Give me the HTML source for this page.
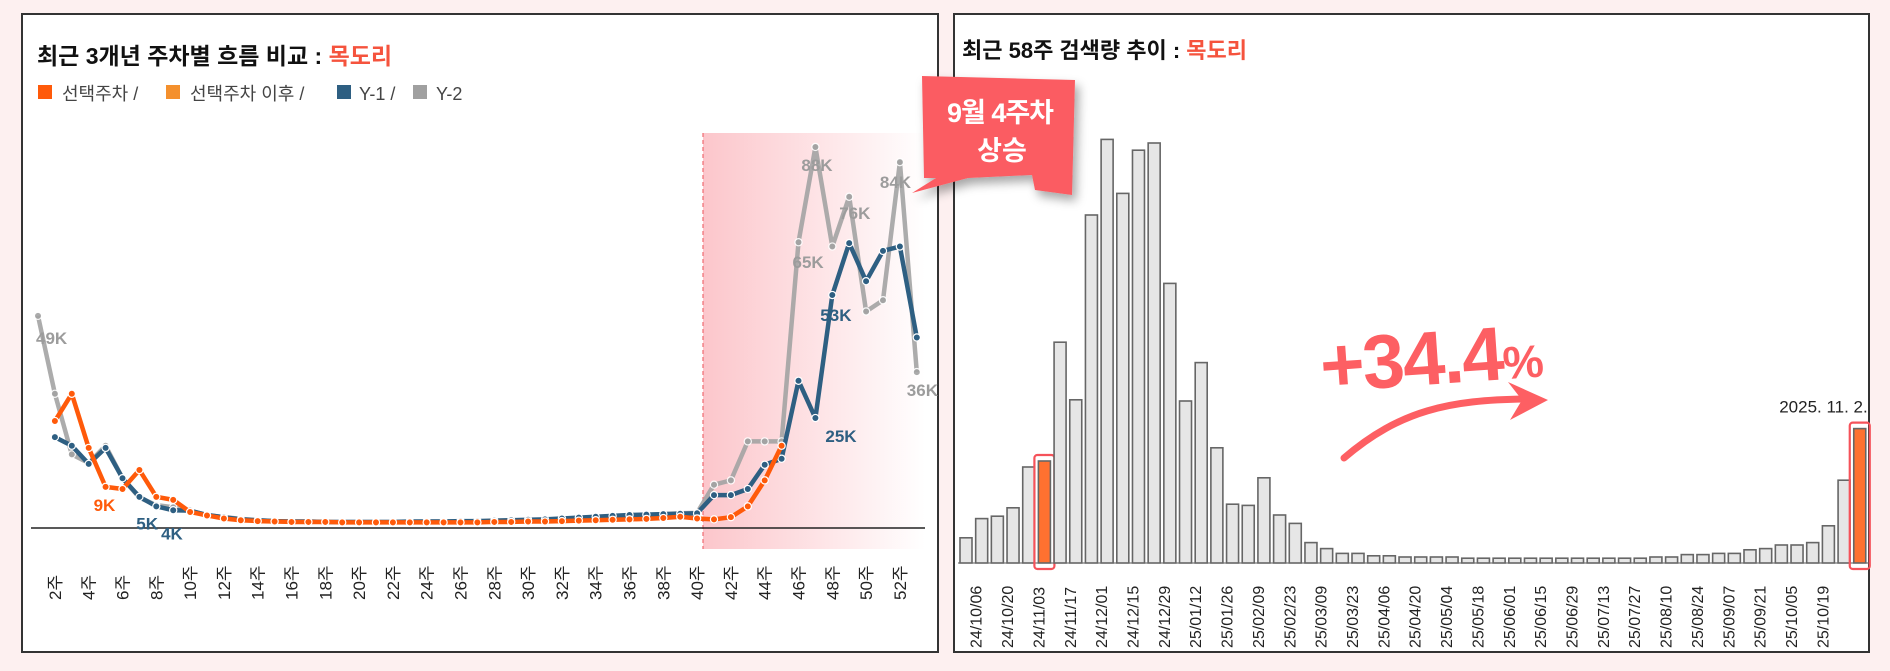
<!DOCTYPE html>
<html><head><meta charset="utf-8">
<style>
html,body{margin:0;padding:0;background:#fdf0f0;}
svg{display:block;font-family:"Liberation Sans","Noto Sans CJK KR",sans-serif;}
</style></head>
<body>
<svg id="s" width="1890" height="671" viewBox="0 0 1890 671">
<defs>
<linearGradient id="shade" x1="0" x2="1" y1="0" y2="0">
<stop offset="0" stop-color="#fcc6cb"/><stop offset="1" stop-color="#ffffff"/>
</linearGradient>
<filter id="sh" x="-30%" y="-30%" width="160%" height="160%"><feDropShadow dx="4" dy="6" stdDeviation="5" flood-color="#000" flood-opacity="0.35"/></filter>
</defs>
<rect x="22" y="14" width="916" height="638" fill="#fff" stroke="#333" stroke-width="2"/>
<rect x="954" y="14" width="915" height="638" fill="#fff" stroke="#333" stroke-width="2"/>
<g>
<text x="37" y="64" font-size="23" font-weight="bold" fill="#111">최근 3개년 주차별 흐름 비교 : <tspan fill="#f5533d">목도리</tspan></text>
</g>
<g font-size="18" fill="#444">
<rect x="38" y="85" width="14" height="14" fill="#ff5a0a"/>
<text x="62" y="100">선택주차 /</text>
<rect x="166" y="85" width="14" height="14" fill="#f4902d"/>
<text x="190" y="100">선택주차 이후 /</text>
<rect x="337" y="85" width="14" height="14" fill="#2e5f82"/>
<text x="359" y="100">Y-1 /</text>
<rect x="413" y="85" width="14" height="14" fill="#a0a0a0"/>
<text x="436" y="100">Y-2</text>
</g>
<rect x="703" y="133" width="222" height="416" fill="url(#shade)"/>
<line x1="703" y1="133" x2="703" y2="549" stroke="#f06a70" stroke-width="1.2" stroke-dasharray="4,3"/>
<g id="left"></g>
<g>
<text x="962" y="58" font-size="22" font-weight="bold" fill="#111">최근 58주 검색량 추이 :  <tspan fill="#f5533d">목도리</tspan></text>
</g>
<g id="right"></g>
<g>
<text x="1322" y="392" font-size="76" font-weight="bold" fill="#fd5f63" transform="rotate(-4 1322 392)" letter-spacing="-2">+34.4<tspan font-size="46">%</tspan></text>
<path d="M1344,458 C1400,410 1450,400 1525,399" fill="none" stroke="#fd5f63" stroke-width="7" stroke-linecap="round"/>
<polygon points="1508,382 1548,400 1510,420 1522,400" fill="#fd5f63"/>
</g>
<g filter="url(#sh)">
<polygon points="922,76 1075,80 1072,195 1035,190 1032,175 968,178 912,193 936,178 924,178" fill="#fb5c62"/>
</g>
<g font-weight="bold" fill="#fff" font-size="27" text-anchor="middle">
<text x="1000" y="122" letter-spacing="-1">9월 4주차</text>
<text x="1002" y="160">상승</text>
</g>
</svg>
<script>
// ---------- left chart data (K) ----------
const weeks = Array.from({length:53},(_,i)=>i+1);
const weekTicks = [2,4,6,8,10,12,14,16,18,20,22,24,26,28,30,32,34,36,38,40,42,44,46,48,50,52];
const selected = [null,24.7,31,18.5,9.5,9,13.4,7.2,6.5,3.7,2.9,2.2,1.8,1.6,1.5,1.4,1.4,1.4,1.3,1.3,1.3,1.3,1.3,1.3,1.3,1.3,1.3,1.4,1.4,1.5,1.5,1.6,1.7,1.8,1.9,2,2.1,2.3,2.6,2.2,2,2.5,5,11,19];
const y1 = [null,21,19,14.8,18.5,11.5,7.2,5,4.1,4,3,2.5,2,1.8,1.6,1.5,1.5,1.4,1.4,1.4,1.4,1.4,1.5,1.5,1.5,1.6,1.6,1.7,1.8,1.9,2,2.2,2.4,2.6,2.8,3,3.1,3.2,3.3,3.4,7.6,7.6,9,14.6,16,34,25.4,53.8,65.8,57,64,65,44];
const y2 = [49,31,17,15,19,11.5,7,5.3,4.8,4,3,2.5,2.1,1.8,1.6,1.5,1.5,1.4,1.4,1.4,1.4,1.4,1.4,1.5,1.5,1.5,1.6,1.6,1.7,1.8,1.9,2,2.2,2.4,2.6,2.8,3,3.2,3.4,3.5,10,11,20,20,20,66,88,65,76.5,50,52.6,84.5,36];
const labelsY2 = [[1,"49K",-2,28],[46,"65K",-6,26],[47,"88K",-14,24],[49,"76K",-10,22],[52,"84K",-20,26],[53,"36K",-10,24]];
const labelsY1 = [[8,"5K",-20,23],[10,"4K",-29,29],[47,"25K",10,24],[48,"53K",-12,26]];
const labelsSel = [[5,"9K",-12,24]];

const LX0=38, LDX=16.9, LBASE=528, LPK=4.33;
const lx = w => LX0 + (w-1)*LDX;
const ly = v => LBASE - v*LPK;
const NS="http://www.w3.org/2000/svg";
function mk(tag, attrs, parent){const e=document.createElementNS(NS,tag);for(const k in attrs)e.setAttribute(k,attrs[k]);parent.appendChild(e);return e;}
const L=document.getElementById('left');

const base=mk('line',{x1:31,y1:LBASE,x2:925,y2:LBASE,stroke:'#222','stroke-width':1.5},L);



function series(vals,color,name,op){
  const g=mk('g',{},L);
  
  
  let pts=[];
  vals.forEach((v,i)=>{if(v!=null)pts.push([lx(weeks[i]),ly(v)]);});
  mk('polyline',{points:pts.map(p=>p.join(',')).join(' '),fill:'none',stroke:color,'stroke-width':4.5,'stroke-linejoin':'round',opacity:op},g);
  pts.forEach(p=>{
    const c=mk('circle',{cx:p[0],cy:p[1],r:3.6,fill:color,stroke:'#fff','stroke-width':1.2,opacity:op},g);
    
    
  });
}
series(y2,'#a3a3a3','series-y2',0.9);
series(y1,'#2e5f82','series-y1',1);
series(selected,'#ff5a0a','series-selected',1);

function dl(list,vals,color){
  list.forEach(([w,t,dx,dy])=>{
    const e=mk('text',{x:lx(w)+dx,y:ly(vals[w-1])+dy,'font-size':17,'font-weight':'bold',fill:color},L);
    e.textContent=t;
    
    
  });
}
dl(labelsY2,y2,'#9c9c9c');
dl(labelsY1,y1,'#2e5f82');
dl(labelsSel,selected,'#ff5a0a');

weekTicks.forEach(w=>{
  const x=lx(w)+6, y=600;
  const t=mk('text',{x:x,y:y,'font-size':17,fill:'#222',transform:`rotate(-90 ${x} ${y})`},L);
  t.textContent=w+'주';
  
  
});

// ---------- right chart data ----------
const barValues = [21,37,39,46,80,85,184,136,290,353,308,344,350,233,135,167,96,49,48,71,40,33,17,12,8,8,6,6,5,5,5,5,4,4,4,4,4,4,4,4,4,4,4,4,5,5,7,7,8,8,11,12,15,15,17,31,69,112];
const startDate = '2024-09-29';
const highlightIdx = [5,57];
const lastLabel = '2025. 11. 2.';

const RX0=960, RDX=15.68, RBASE=563, RPK=1.2, BW=12;
const rx = i => RX0 + i*RDX;
const rh = v => v*RPK;
const R=document.getElementById('right');
const ax=mk('line',{x1:RX0-2,y1:RBASE,x2:1869,y2:RBASE,stroke:'#555','stroke-width':1},R);


const d0=new Date(startDate+'T00:00:00Z');
barValues.forEach((v,i)=>{
  const hi=highlightIdx.includes(i);
  const b=mk('rect',{x:rx(i),y:RBASE-rh(v),width:BW,height:rh(v),fill:hi?'#ff7130':'#e6e6e6',stroke:'#666','stroke-width':1.6},R);
  
  
  if(hi){
    const o=mk('rect',{x:rx(i)-4,y:RBASE-rh(v)-6,width:BW+8,height:rh(v)+12,rx:3,fill:'none',stroke:'#f5525a','stroke-width':2.2},R);
    
    
  }
  if(i%2===1 && i<barValues.length-1){
    const d=new Date(d0.getTime()+i*7*86400000);
    const s=String(d.getUTCFullYear()).slice(2)+'/'+String(d.getUTCMonth()+1).padStart(2,'0')+'/'+String(d.getUTCDate()).padStart(2,'0');
    const x=rx(i)+BW/2, y=648;
    const t=mk('text',{x:x,y:y,'font-size':16,fill:'#222',transform:`rotate(-90 ${x} ${y})`},R);
    t.textContent=s;
    
    
  }
});
const li=barValues.length-1;
const lt=mk('text',{x:rx(li)+BW+2,y:RBASE-rh(barValues[li])-16,'font-size':17,fill:'#222','text-anchor':'end'},R);
lt.textContent=lastLabel;


</script>
</body></html>
